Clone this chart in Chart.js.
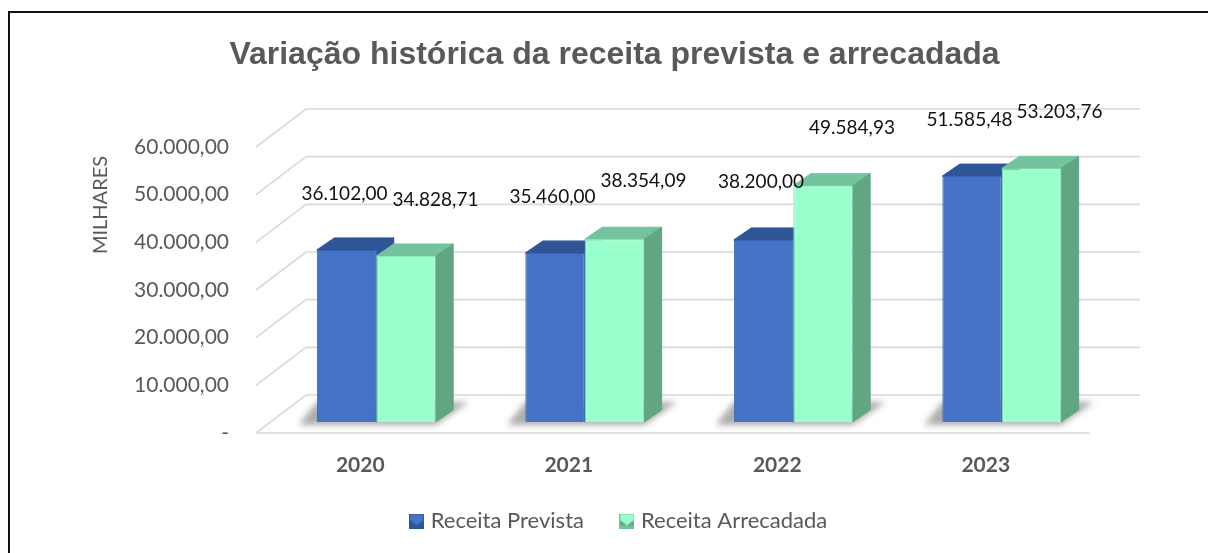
<!DOCTYPE html>
<html lang="pt">
<head>
<meta charset="utf-8">
<title>Variação histórica da receita prevista e arrecadada</title>
<script src="https://cdn.jsdelivr.net/npm/chart.js@4"></script>
<style>
    body { margin: 0; background: #fff; }
    #box { position: absolute; left: 8px; top: 11px; width: 1200px; height: 542px; border-top: 2px solid #111; border-left: 2px solid #111; box-sizing: border-box; }
    #grafico { position: absolute; left: 0; top: 0; }
</style>
</head>
<body>
<div id="box"></div>
<canvas id="grafico" width="1208" height="553"></canvas>
<script>
// DADOS
const anos = ['2020', '2021', '2022', '2023'];
const receitaPrevista = [36102.00, 35460.00, 38200.00, 51585.48];
const receitaArrecadada = [34828.71, 38354.09, 49584.93, 53203.76];
const tickLabels = ['-', '10.000,00', '20.000,00', '30.000,00', '40.000,00', '50.000,00', '60.000,00'];

// ESTILO
const cinza = '#595959';
const fonte = 'Lato, "Noto Sans", sans-serif';
const paredes = { x: 50, y: 38 };   // profundidade do piso
const planoBarras = { x: 16, y: 11 }; // barras ficam no meio do piso
const fundoBarra = { x: 17.5, y: 12 };
const cores = [
    { frente: '#4472c4', borda: '#3a63ad', topo: '#2f5597', lado: '#2f5597' },
    { frente: '#99ffcc', borda: '#8ee8bb', topo: '#74c39f', lado: '#62a583' }
];
// rótulos foram movidos à mão no original: deslocamento a partir do topo da barra
const ajusteRotulos = [
    [[-2, -56], [-2.5, -56], [-2.5, -58], [-2.5, -56]],
    [[29.5, -56], [29, -58], [29, -57.5], [28, -57]]
];

const formatar = v => v.toLocaleString('pt-BR', { minimumFractionDigits: 2, maximumFractionDigits: 2 });

function quadradoLegenda(c) {
    const cv = document.createElement('canvas');
    cv.width = 15; cv.height = 15;
    const g = cv.getContext('2d');
    g.fillStyle = c.topo; g.fillRect(0, 0, 15, 15);
    g.fillStyle = c.frente; g.fillRect(1, 1, 13, 11);
    g.fillStyle = c.lado;
    g.beginPath(); g.moveTo(1, 12); g.lineTo(14, 12); g.lineTo(14, 7); g.lineTo(7.5, 12); g.lineTo(1, 7); g.closePath(); g.fill();
    return cv;
}

function poligono(ctx, pts, cor) {
    ctx.fillStyle = cor;
    ctx.strokeStyle = cor;
    ctx.lineWidth = 1;
    ctx.lineJoin = 'round';
    ctx.beginPath();
    pts.forEach((p, i) => i ? ctx.lineTo(p[0], p[1]) : ctx.moveTo(p[0], p[1]));
    ctx.closePath();
    ctx.fill();
    ctx.stroke();
}

const barras3d = {
    id: 'barras3d',
    afterLayout(chart) {
        // legenda do original não fica centrada com o título
        chart.legend.left += 6;
        chart.legend.right += 6;
        // rótulos do eixo X invadem a folga da legenda, sem isso são cortados
        chart.scales.x.bottom += 25;
    },
    beforeDatasetsDraw(chart) {
        const ctx = chart.ctx;
        const { left, right } = chart.chartArea;
        const y = chart.scales.y;

        // grade nas paredes
        ctx.save();
        ctx.strokeStyle = '#d9d9d9';
        ctx.lineWidth = 1.6;
        y.ticks.forEach(t => {
            const py = y.getPixelForValue(t.value);
            ctx.beginPath();
            ctx.moveTo(left, py);
            ctx.lineTo(left + paredes.x, py - paredes.y);
            ctx.lineTo(right + paredes.x, py - paredes.y);
            ctx.stroke();
        });
        ctx.beginPath();
        ctx.moveTo(left, y.getPixelForValue(0));
        ctx.lineTo(right, y.getPixelForValue(0));
        ctx.stroke();
        ctx.restore();

        ctx.save();
        ctx.translate(planoBarras.x, -planoBarras.y);

        // sombra no piso
        ctx.save();
        ctx.filter = 'blur(3px)';
        ctx.fillStyle = 'rgba(70,70,70,0.45)';
        ctx.beginPath();
        chart.data.datasets.forEach((ds, d) => {
            chart.getDatasetMeta(d).data.forEach(b => {
                const l = b.x - b.width / 2, r = b.x + b.width / 2, bs = b.base;
                ctx.moveTo(l - 18, bs + 3);
                ctx.lineTo(r, bs + 3);
                ctx.lineTo(r + 33, bs - 20);
                ctx.lineTo(l, bs - 20);
                ctx.closePath();
            });
        });
        ctx.fill();
        ctx.restore();

        // topo e lado de cada barra
        chart.data.datasets.forEach((ds, d) => {
            chart.getDatasetMeta(d).data.forEach(b => {
                const l = b.x - b.width / 2, r = b.x + b.width / 2;
                poligono(ctx, [[l, b.y], [l + fundoBarra.x, b.y - fundoBarra.y], [r + fundoBarra.x, b.y - fundoBarra.y], [r, b.y]], cores[d].topo);
                poligono(ctx, [[r, b.y], [r + fundoBarra.x, b.y - fundoBarra.y], [r + fundoBarra.x, b.base - fundoBarra.y], [r, b.base]], cores[d].lado);
            });
        });
        // fica transladado até afterDatasetsDraw para as frentes
    },
    afterDatasetsDraw(chart) {
        const ctx = chart.ctx;
        ctx.font = '19px ' + fonte;
        ctx.fillStyle = '#111';
        ctx.textAlign = 'center';
        ctx.textBaseline = 'middle';
        chart.data.datasets.forEach((ds, d) => {
            chart.getDatasetMeta(d).data.forEach((b, i) => {
                const aj = ajusteRotulos[d][i];
                ctx.fillText(formatar(ds.data[i]), b.x + aj[0], b.y + aj[1]);
            });
        });
        ctx.restore();

        // título do eixo Y fica fora do centro do eixo
        ctx.save();
        ctx.translate(101, 205);
        ctx.rotate(-Math.PI / 2);
        ctx.font = '20px ' + fonte;
        ctx.fillStyle = cinza;
        ctx.textAlign = 'center';
        ctx.textBaseline = 'middle';
        ctx.fillText('MILHARES', 0, 0);
        ctx.restore();
    }
};

new Chart(document.getElementById('grafico'), {
    type: 'bar',
    data: {
        labels: anos,
        datasets: [
            { label: 'Receita Prevista', data: receitaPrevista, backgroundColor: cores[0].frente, borderColor: cores[0].borda, borderWidth: 1, pointStyle: quadradoLegenda(cores[0]) },
            { label: 'Receita Arrecadada', data: receitaArrecadada, backgroundColor: cores[1].frente, borderColor: cores[1].borda, borderWidth: 1, pointStyle: quadradoLegenda(cores[1]) }
        ]
    },
    options: {
        responsive: false,
        animation: false,
        events: [],
        clip: false,
        layout: { padding: { left: 21, right: 0, bottom: 11, top: 0 } },
        datasets: { bar: { barPercentage: 1, categoryPercentage: 0.57 } },
        scales: {
            x: {
                grid: { display: false },
                border: { display: false },
                ticks: { color: cinza, font: { family: fonte, size: 21, weight: 'bold' }, padding: 12 },
                afterFit(s) { s.height = 37; }
            },
            y: {
                min: 0,
                max: 60000,
                grid: { display: false },
                border: { display: false },
                afterBuildTicks(s) { s.ticks = tickLabels.map((t, i) => ({ value: i * 10000 })); },
                ticks: { color: cinza, font: { family: fonte, size: 21 }, padding: 19, callback: (v, i) => tickLabels[i] },
                afterFit(s) { s.width = 235; }
            },
            // escala vazia só para reservar a margem direita sem descentrar título e legenda
            margemDireita: {
                position: 'right',
                grid: { display: false },
                border: { display: false },
                ticks: { display: false },
                afterFit(s) { s.width = 118; }
            }
        },
        plugins: {
            title: {
                display: true,
                text: 'Variação histórica da receita prevista e arrecadada',
                color: cinza,
                font: { family: '"Liberation Sans", Arial, sans-serif', size: 32, weight: 'bold' },
                padding: { top: 36, bottom: 72.6 }
            },
            legend: {
                position: 'bottom',
                labels: { color: cinza, font: { family: fonte, size: 22 }, usePointStyle: true, boxWidth: 6, boxHeight: 14, padding: 40 }
            },
            tooltip: { enabled: false }
        }
    },
    plugins: [barras3d]
});
</script>
</body>
</html>
